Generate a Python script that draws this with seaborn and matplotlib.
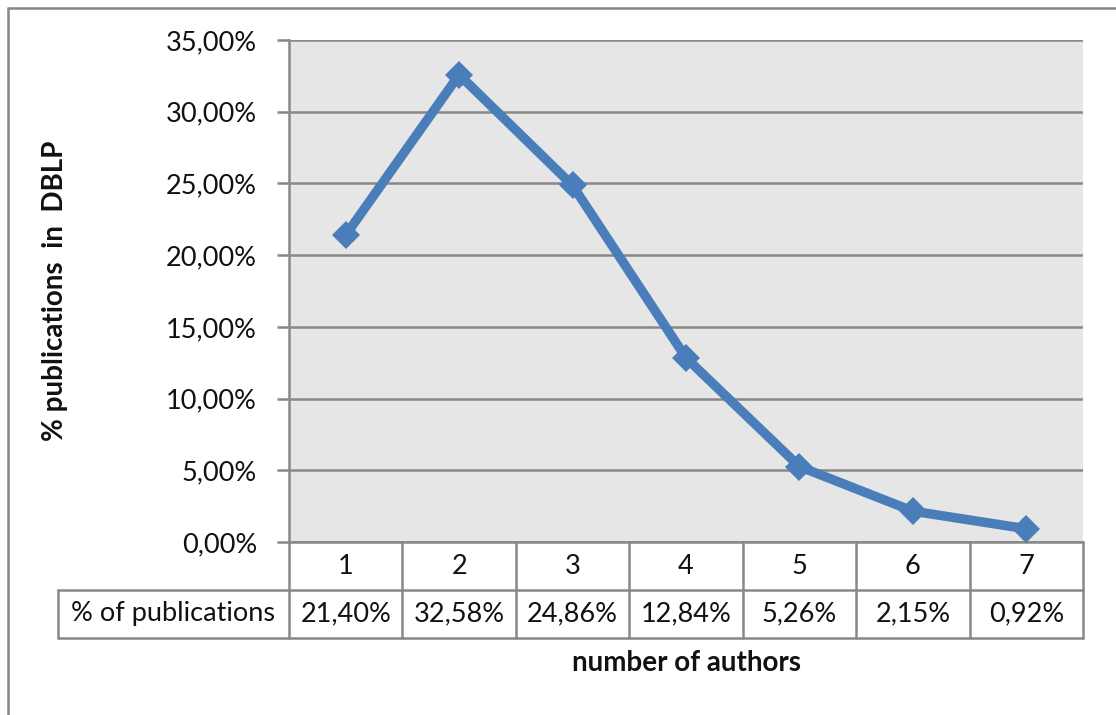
import matplotlib
matplotlib.use("Agg")
import matplotlib.pyplot as plt
from matplotlib.lines import Line2D
from matplotlib.ticker import FuncFormatter
import seaborn as sns
import pandas as pd

# Share of DBLP publications by number of authors
authors = [1, 2, 3, 4, 5, 6, 7]
share = [21.40, 32.58, 24.86, 12.84, 5.26, 2.15, 0.92]
row_label = "% of publications"
y_ticks = [0, 5, 10, 15, 20, 25, 30, 35]

df = pd.DataFrame({"pos": range(len(authors)), "share": share})

sns.set_theme(style="white")
plt.rcParams["font.family"] = ["Lato", "DejaVu Sans"]

TEXT = "#111111"
GRID = "#888888"
LINE = "#4a7ebb"
FS = 19.5
FS_BOLD = 20

fig = plt.figure(figsize=(11.16, 7.15), dpi=100)
ax = fig.add_axes([289 / 1116, 1 - 542 / 715, 794 / 1116, 502 / 715])
ax.set_facecolor("#e6e6e6")

sns.lineplot(data=df, x="pos", y="share", ax=ax, color=LINE, linewidth=6.8,
             marker="D", markersize=14.5, markeredgewidth=0, zorder=3)

ax.set_xlim(-0.5, len(authors) - 0.5)
ax.set_ylim(0, 35)
ax.set_yticks(y_ticks)
ax.yaxis.set_major_formatter(FuncFormatter(lambda v, p: f"{v:.2f}%".replace(".", ",")))
ax.set_xticks([])
ax.grid(axis="y", color=GRID, linewidth=1.8)
ax.set_axisbelow(True)
for s in ["top", "right", "bottom"]:
    ax.spines[s].set_visible(False)
ax.spines["left"].set_color(GRID)
ax.spines["left"].set_linewidth(1.8)
ax.tick_params(axis="y", left=True, length=9, width=1.8, color=GRID,
               labelsize=FS, labelcolor=TEXT, pad=14)
ax.set_xlabel("")
ax.set_ylabel("% publications  in  DBLP", fontsize=FS_BOLD, fontweight="bold",
              color=TEXT, labelpad=0)
ax.yaxis.set_label_coords(-221 / 794, 0.5)

# Data table under the plot area
n = len(authors)
rh = 48 / 502
left = -231 / 794
tkw = dict(transform=ax.transAxes, clip_on=False, color=GRID, linewidth=1.8)
ax.add_line(Line2D([0, 0], [0, -2 * rh], **tkw))
for i in range(1, n + 1):
    ax.add_line(Line2D([i / n, i / n], [0, -2 * rh], **tkw))
ax.add_line(Line2D([0, 1], [0, 0], **tkw))
ax.add_line(Line2D([left, 1], [-rh, -rh], **tkw))
ax.add_line(Line2D([left, 1], [-2 * rh, -2 * rh], **tkw))
ax.add_line(Line2D([left, left], [-rh, -2 * rh], **tkw))

for i, (a, v) in enumerate(zip(authors, share)):
    xc = (i + 0.5) / n
    ax.text(xc, -0.5 * rh, str(a), transform=ax.transAxes, ha="center",
            va="center", fontsize=FS, color=TEXT)
    ax.text(xc, -1.5 * rh, f"{v:.2f}%".replace(".", ","), transform=ax.transAxes,
            ha="center", va="center", fontsize=FS, color=TEXT)
ax.text(left / 2, -1.5 * rh, row_label, transform=ax.transAxes, ha="center",
        va="center", fontsize=FS, color=TEXT)

ax.text(0.5, -(663 - 542) / 502, "number of authors", transform=ax.transAxes,
        ha="center", va="center", fontsize=FS_BOLD, fontweight="bold", color=TEXT)

# Chart frame
fig.add_artist(Line2D([8 / 1116, 1], [1 - 8 / 715, 1 - 8 / 715],
                      transform=fig.transFigure, color=GRID, linewidth=1.8))
fig.add_artist(Line2D([8 / 1116, 8 / 1116], [0, 1 - 8 / 715],
                      transform=fig.transFigure, color=GRID, linewidth=1.8))

fig.savefig("out.png", dpi=100)
